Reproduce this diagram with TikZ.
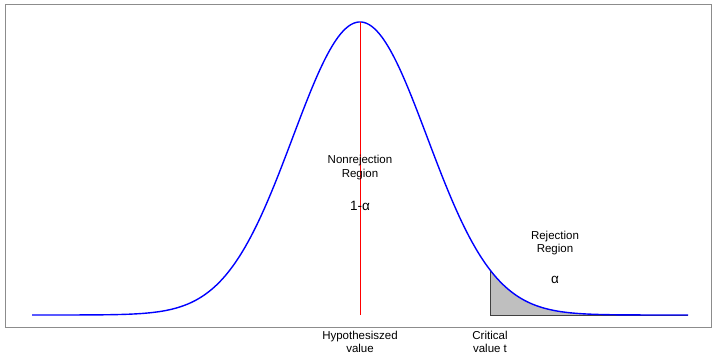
\documentclass[tikz,border=0pt]{standalone}
\usepackage{fontspec}
\setmainfont{Liberation Sans}
\usepackage{tikz}
\usetikzlibrary{positioning}

\begin{document}
\begin{tikzpicture}[
    x=1pt, y=1pt,
    lab/.style    ={align=center, font=\fontsize{11.5}{13.5}\selectfont, inner sep=0pt},
    biglab/.style ={font=\fontsize{13.5}{15}\selectfont, inner sep=0pt},
    density/.style={blue, line width=1.4pt},
  ]
  \useasboundingbox (0,0) rectangle (720,363);
  % ---- normal curve: mean 360, sd 67.2, baseline 48, peak 341 ----
  \def\mu{360} \def\sd{67.2} \def\base{48} \def\ht{293} \def\crit{490}
  \draw[black!45, line width=1.3pt] (5.5,35.5) rectangle (711.5,358.5);

  % ---- rejection region shading ----
  \fill[black!25] (\crit,\base) -- plot[domain=\crit:688, samples=80]
    (\x,{\ht*exp(-((\x-\mu)/\sd)^2/2)+\base}) -- (688,\base) -- cycle;
  \draw[black!75, line width=0.6pt] (688,\base) -- (\crit,\base) -- (\crit,{\ht*exp(-((\crit-\mu)/\sd)^2/2)+\base});

  % ---- density and hypothesized value ----
  \draw[density] plot[domain=32:688, samples=250] (\x,{\ht*exp(-((\x-\mu)/\sd)^2/2)+\base});
  \coordinate (top) at (\mu,\base+\ht);
  \coordinate (foot) at (\mu,\base);
  \draw[red, line width=1pt] (top) -- (foot);

  % ---- labels ----
  \node[lab]    (nonrej) at (\mu,184.5) {Nonrejection\\Region};
  \node[biglab] (conf)   at (\mu,152)   {1-α};
  \node[lab]    (rej)    at (555,109)   {Rejection\\Region};
  \node[biglab] (alpha)  at (555,79)    {α};
  \node[lab]    (hyp)    at (\mu,10)    {Hypothesiszed\\value};
  \node[lab]    (crit)   at (\crit,10)  {Critical\\value t};
\end{tikzpicture}
\end{document}
